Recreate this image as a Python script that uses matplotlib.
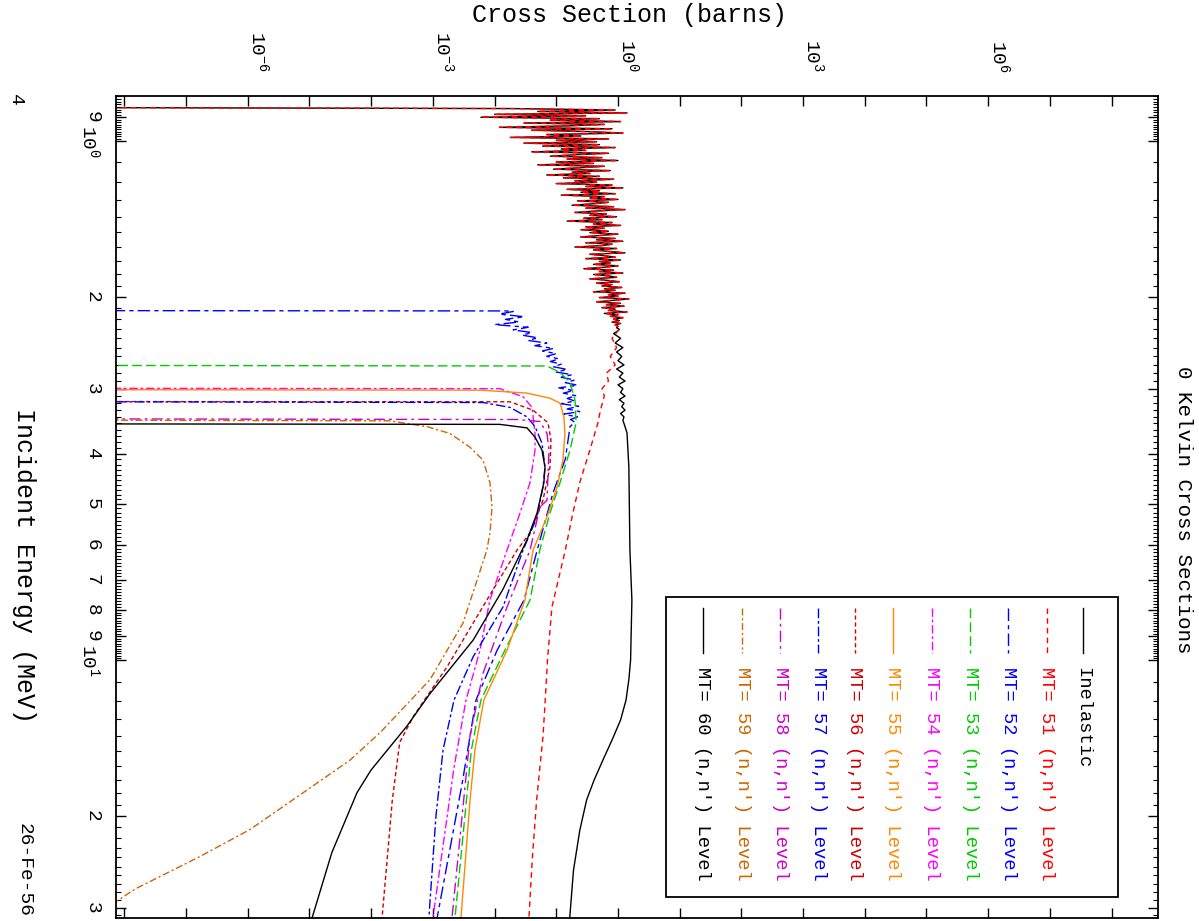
import numpy as np
import matplotlib
matplotlib.use("Agg")
import matplotlib.pyplot as plt
from matplotlib.lines import Line2D
from matplotlib.patches import Rectangle
from matplotlib.ticker import FixedLocator, NullLocator, NullFormatter

plt.rcParams['font.family'] = ['Liberation Mono', 'DejaVu Sans Mono']
plt.rcParams['mathtext.fontset'] = 'custom'
plt.rcParams['mathtext.rm'] = 'Liberation Mono'
plt.rcParams['mathtext.it'] = 'Liberation Mono'

# ---------------- data ----------------
# resonance region of MT=51 / inelastic, 0.87 - 2.32 MeV
res_vals = [0.02, 0.9, 0.05, 1.4, 0.01, 0.3, 0.006, 0.5, 0.08, 1.1, 0.03, 0.6, 0.15,
            0.012, 0.8, 0.04, 0.35, 1.2, 0.07, 0.25, 0.018, 0.7, 0.1, 0.45, 0.03,
            0.5, 0.06, 0.9, 0.12, 0.3, 0.04, 0.7, 0.2, 0.08, 0.55, 0.15, 1.0, 0.1,
            0.4, 0.05, 0.6, 0.25, 0.09, 0.75, 0.18, 0.35, 0.07, 0.5, 0.13, 0.85,
            0.2, 0.45, 0.1, 0.8, 0.3, 1.2, 0.15, 0.5, 0.25, 0.9, 0.12, 0.6, 0.35,
            1.0, 0.22, 0.7, 0.4, 0.18, 0.85, 0.3, 1.3, 0.45, 0.2, 0.65, 0.35, 0.95,
            0.28, 0.55, 0.15, 0.8, 0.4, 1.1, 0.3, 0.6, 0.25,
            0.7, 0.35, 1.0, 0.5, 0.25, 0.9, 0.45, 1.2, 0.3, 0.8, 0.55, 0.2, 0.95,
            0.4, 0.7, 1.3, 0.35, 0.6, 0.9, 0.3, 1.1, 0.5, 0.75, 0.4, 1.0, 0.6, 0.28,
            0.85, 0.5, 1.2, 0.4, 0.7, 0.95, 0.35, 0.65, 1.05, 0.45, 0.8, 0.55, 1.15,
            0.6, 0.9, 0.4, 1.3, 0.7, 1.0, 0.5, 1.5, 0.8, 0.45, 1.1, 0.65, 1.25,
            0.55, 0.9, 0.7, 1.4, 0.6, 1.0, 0.75, 1.2, 0.85, 1.05, 0.8, 1.1, 0.9,
            1.0, 0.95, 1.05, 1.0]
res_e = list(np.geomspace(0.866, 2.32, len(res_vals)))

# fluctuating part of MT=52, 2.13 - 3.48 MeV
fl52_vals = [0.02, 0.012, 0.03, 0.015, 0.025, 0.01, 0.035, 0.02, 0.04, 0.028,
             0.05, 0.035, 0.07, 0.045, 0.09, 0.06, 0.1, 0.07, 0.11, 0.08, 0.12, 0.09,
             0.15, 0.1, 0.18, 0.12, 0.2, 0.14, 0.22, 0.11, 0.19, 0.13, 0.21, 0.15,
             0.2, 0.12, 0.23, 0.15, 0.24, 0.13, 0.22, 0.17, 0.2]
fl52_e = list(np.geomspace(2.13, 3.48, len(fl52_vals)))

inel_e = ([0.862] + res_e +
          [2.35, 2.40, 2.45, 2.50, 2.55, 2.60, 2.65, 2.70, 2.75, 2.80, 2.85, 2.90,
           2.95, 3.00, 3.05, 3.10, 3.15, 3.20, 3.25, 3.30, 3.35, 3.40, 3.45, 3.50,
           3.65, 4.25, 6.14, 7.66, 10.0, 10.9, 11.94, 13.05, 14.26, 15.58, 17.03,
           18.6, 21.3, 25.4, 31.4])
inel_s = ([1e-9] + res_vals +
          [0.85, 1.1, 0.9, 1.2, 0.95, 1.15, 1.0, 1.25, 0.95, 1.2, 1.05, 1.3,
           1.0, 1.2, 1.1, 1.3, 1.05, 1.25, 1.15, 1.3, 1.1, 1.25, 1.2, 1.25,
           1.4, 1.5, 1.56, 1.68, 1.6, 1.5, 1.35, 1.1, 0.80, 0.57, 0.41,
           0.31, 0.24, 0.19, 0.165])

mt51_e = ([0.862] + res_e +
          [2.40, 2.50, 2.60, 2.70, 2.80, 2.90, 3.00, 3.10, 3.30, 3.50, 3.94, 4.55,
           5.30, 6.14, 7.90, 10.0, 12.0, 14.0, 18.6, 24.0, 31.4])
mt51_s = ([1e-9] + res_vals +
          [0.80, 0.95, 0.75, 0.90, 0.65, 0.70, 0.55, 0.60, 0.52, 0.47, 0.35, 0.24,
           0.18, 0.14, 0.085, 0.072, 0.066, 0.061, 0.048, 0.041, 0.036])

mt52_e = [2.122, 2.125] + fl52_e + [3.55, 4.1, 4.77, 6.14, 7.66, 9.57, 11.94, 17.2, 31.4]
mt52_s = [1e-9, 0.016] + fl52_vals + [0.167, 0.14, 0.088, 0.049, 0.030, 0.011, 5.0e-3, 3.0e-3, 1.17e-3]

mt53_e = [2.706, 2.713, 2.79, 2.92, 3.155, 3.49, 3.94, 4.55, 5.21, 6.14, 7.66, 9.57, 11.94, 14.9, 18.6, 31.4]
mt53_s = [1e-9, 0.07, 0.115, 0.167, 0.201, 0.209, 0.167, 0.115, 0.079, 0.054, 0.0375, 0.0147, 6.0e-3, 4.2e-3, 3.5e-3, 2.28e-3]

mt54_e = [2.995, 3.0, 3.11, 3.26, 3.66, 3.94, 4.55, 5.21, 6.14, 7.66, 9.57, 11.94, 16.1, 31.4]
mt54_s = [1e-9, 0.0122, 0.029, 0.0404, 0.0452, 0.0452, 0.0375, 0.0258, 0.0159, 8.4e-3, 5.8e-3, 3.44e-3, 2.2e-3, 1.0e-3]

mt55_e = [3.013, 3.02, 3.06, 3.13, 3.2, 3.4, 3.66, 4.12, 4.64, 5.3, 6.14, 7.66, 9.57, 11.94, 14.9, 18.6, 31.4]
mt55_s = [1e-9, 0.006, 0.0335, 0.079, 0.115, 0.133, 0.138, 0.128, 0.103, 0.0707, 0.042, 0.031, 0.0159, 6.7e-3, 4.8e-3, 4.0e-3, 2.85e-3]

mt56_e = [3.176, 3.18, 3.3, 3.49, 3.77, 4.25, 4.92, 5.69, 6.14, 7.66, 10.3, 12.8, 14.4, 18.6, 31.4]
mt56_s = [1e-9, 0.0178, 0.0419, 0.0734, 0.082, 0.079, 0.0608, 0.0375, 0.0231, 7.5e-3, 1.7e-3, 4.9e-4, 2.9e-4, 2.2e-4, 1.5e-4]

mt57_e = [3.179, 3.19, 3.26, 3.4, 3.55, 3.82, 4.25, 4.64, 5.3, 6.14, 7.9, 9.85, 11.94, 14.9, 20.0, 31.4]
mt57_s = [1e-9, 6.5e-3, 0.0178, 0.0335, 0.0452, 0.0586, 0.0656, 0.0608, 0.0487, 0.0289, 0.0137, 4.5e-3, 2.2e-3, 1.46e-3, 1.12e-3, 8.6e-4]

mt58_e = [3.43, 3.44, 3.47, 3.66, 3.94, 4.92, 5.07, 6.14, 7.9, 10.6, 14.0, 31.4]
mt58_s = [1e-9, 0.0231, 0.0544, 0.0707, 0.0762, 0.0707, 0.0544, 0.0375, 0.0159, 6.5e-3, 4.0e-3, 2.04e-3]

mt59_e = [3.449, 3.46, 3.55, 3.66, 3.89, 4.12, 4.55, 5.07, 5.69, 6.14, 8.49, 10.9, 11.94, 13.8, 15.6, 17.8, 21.2, 23.9, 27.6, 29.3]
mt59_s = [1e-9, 2e-4, 8e-4, 1.89e-3, 4e-3, 6.5e-3, 8.4e-3, 9.1e-3, 8.4e-3, 7.5e-3, 3.07e-3, 9.0e-4, 4.4e-4, 1.39e-4, 4.5e-5, 9.1e-6, 1.09e-6, 1.68e-7, 1.5e-8, 7e-9]

mt60_e = [3.507, 3.515, 3.57, 3.72, 3.94, 4.25, 4.55, 5.21, 5.87, 7.3, 9.15, 11.6, 13.4, 16.3, 18.0, 23.5, 31.4]
mt60_s = [1e-9, 0.0122, 0.0335, 0.0452, 0.0586, 0.0656, 0.063, 0.0487, 0.0335, 0.0137, 4.5e-3, 9e-4, 3.8e-4, 9.9e-5, 5.9e-5, 2.3e-5, 1.1e-5]

labels = ["Inelastic"] + ["MT= %d (n,n') Level" % m for m in range(51, 61)]

# ---------------- figure ----------------
W, H = 1199, 921
fig = plt.figure(figsize=(W / 100, H / 100), dpi=100)
ax = fig.add_axes([116 / W, 1 - 918 / H, (1158 - 116) / W, (918 - 96) / H])


def fx(px):
    return px / W


def fy(py):
    return 1 - py / H


styles = [
    ('black', '-'),
    ('#ff0000', (0, (4, 3))),
    ('#0000ff', (0, (9, 3, 3, 3))),
    ('#00cc00', (0, (7, 3))),
    ('#ff00ff', (0, (6, 2, 2, 2))),
    ('#ff8800', '-'),
    ('#cc0000', (0, (3, 2))),
    ('#0000ee', (0, (7, 2, 2, 2))),
    ('#cc00cc', (0, (8, 3, 2, 3))),
    ('#cc6600', (0, (5, 2, 1.5, 2))),
    ('black', '-'),
]
curves = [(inel_e, inel_s), (mt51_e, mt51_s), (mt52_e, mt52_s), (mt53_e, mt53_s),
          (mt54_e, mt54_s), (mt55_e, mt55_s), (mt56_e, mt56_s), (mt57_e, mt57_s),
          (mt58_e, mt58_s), (mt59_e, mt59_s), (mt60_e, mt60_s)]

for (e, s), (c, ls) in zip(curves, styles):
    ax.plot(s, e, color=c, linestyle=ls, lw=1.0)

ax.set_xscale('log')
ax.set_yscale('log')
ax.set_xlim(10 ** -8.136, 10 ** 8.752)
ax.set_ylim(31.4, 0.819)

# cross section axis (horizontal, labels on top)
xt = [10.0 ** k for k in range(-8, 9)]
ax.xaxis.set_major_locator(FixedLocator(xt))
ax.xaxis.set_minor_locator(NullLocator())
ax.set_xticklabels([r'$\mathregular{10^{%d}}$' % k if k % 3 == 0 else '' for k in range(-8, 9)])
ax.tick_params(axis='x', which='major', direction='in', top=True, bottom=True,
               labeltop=True, labelbottom=False, length=7, width=1, pad=17,
               labelsize=14, labelrotation=-90)
for t in ax.get_xticklabels():
    t.set_ha('left')

# energy axis (vertical, inverted)
yt = [0.9, 1, 2, 3, 4, 5, 6, 7, 8, 9, 10, 20, 30]
ytl = ['9', r'$\mathregular{10^{0}}$', '2', '3', '4', '5', '6', '7', '8', '9',
       r'$\mathregular{10^{1}}$', '2', '3']
ax.yaxis.set_major_locator(FixedLocator(yt))
ax.set_yticklabels(ytl)
ym = ([v for v in np.arange(0.82, 1.0, 0.01) if abs(v - 0.9) > 1e-6] +
      [v for v in np.arange(1.1, 10, 0.1) if abs(v - round(v)) > 1e-6] +
      [v for v in np.arange(11, 32, 1) if v not in (20, 30)])
ax.yaxis.set_minor_locator(FixedLocator(ym))
ax.yaxis.set_minor_formatter(NullFormatter())
ax.tick_params(axis='y', which='major', direction='in', left=True, right=True,
               length=7, width=1, pad=11, labelsize=14, labelrotation=-90)
ax.tick_params(axis='y', which='minor', direction='in', left=True, right=True,
               length=3.5, width=0.8)
for t in ax.get_yticklabels():
    t.set_va('center')
    t.set_ha('right')

for sp in ax.spines.values():
    sp.set_linewidth(1.3)

# titles / axis texts (whole plot is turned on its side)
fig.text(fx(630), fy(15), 'Cross Section (barns)', ha='center', va='center', fontsize=18)
fig.text(fx(1183), fy(510), '0 Kelvin Cross Sections', ha='center', va='center',
         rotation=-90, fontsize=15)
fig.text(fx(24), fy(565), 'Incident Energy (MeV)', ha='center', va='center',
         rotation=-90, fontsize=18)
fig.text(fx(24), fy(870), '26-Fe-56', ha='center', va='center', rotation=-90, fontsize=14)
fig.text(fx(15), fy(100), '4', ha='center', va='center', rotation=-90, fontsize=14)

# legend box, drawn by hand because it is rotated
fig.add_artist(Rectangle((fx(666), fy(897)), fx(1118) - fx(666), fy(597) - fy(897),
                         transform=fig.transFigure, facecolor='white', edgecolor='black',
                         lw=1.3, zorder=3))
leg_x = [1083, 1047, 1008, 970, 932, 893, 855, 818, 780, 742, 703]
for cx, lab, (c, ls) in zip(leg_x, labels, styles):
    fig.add_artist(Line2D([fx(cx), fx(cx)], [fy(608), fy(653)], transform=fig.transFigure,
                          color=c, linestyle=ls, lw=1.0, zorder=4))
    fig.text(fx(cx), fy(667), lab, color=c, rotation=-90, ha='center', va='top',
             fontsize=13.5, zorder=4)

fig.savefig('out.png', dpi=100)
